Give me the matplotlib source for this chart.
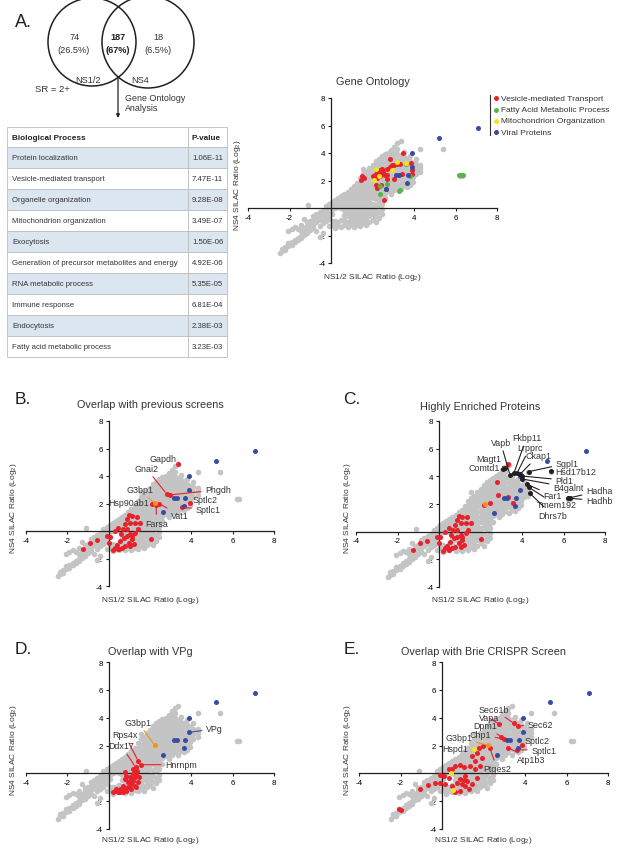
import matplotlib
matplotlib.use("Agg")
import matplotlib.pyplot as plt
from matplotlib.patches import Circle, Rectangle

plt.rcParams["font.family"] = ["Liberation Sans", "DejaVu Sans"]
plt.rcParams["mathtext.fontset"] = "custom"
plt.rcParams["mathtext.rm"] = "Liberation Sans"
plt.rcParams["axes.unicode_minus"] = False

GRAY = "#c4c4c4"
RED = "#e8212b"
BLUE = "#3a4ba3"
GREEN = "#5ab548"
YELLOW = "#f2e51b"
ORANGE = "#f39221"
BLACK = "#231f20"
TXT = "#333333"
DOT = 13

# ---- panel A: venn + table ----
venn_left = ["74", "(26.5%)"]
venn_mid = ["187", "(67%)"]
venn_right = ["18", "(6.5%)"]
table_terms = [
    "Protein localization",
    "Vesicle-mediated transport",
    "Organelle organization",
    "Mitochondrion organization",
    "Exocytosis",
    "Generation of precursor metabolites and energy",
    "RNA metabolic process",
    "Immune response",
    "Endocytosis",
    "Fatty acid metabolic process",
]
table_pvals = ["1.06E-11", "7.47E-11", "9.28E-08", "3.49E-07", "1.50E-06",
               "4.92E-06", "5.35E-05", "6.81E-04", "2.38E-03", "3.23E-03"]

# ---- all proteins (gray), read column by column: (NS1/2, [NS4 values]) ----
gray_columns = [
    (-2.45, [-3.25]),
    (-2.35, [-3.1, -2.95]),
    (-2.2, [-3.05, -2.85]),
    (-2.05, [-2.75, -2.55, -1.7]),
    (-1.9, [-2.5, -2.7, -1.55]),
    (-1.75, [-2.3, -2.5, -1.4]),
    (-1.6, [-2.15, -2.35, -1.5]),
    (-1.45, [-2.0, -2.2, -1.25, -1.65]),
    (-1.3, [-1.75, -1.95, -1.45, -0.8]),
    (-1.15, [-1.6, -1.85, -1.05, -1.3]),
    (-1.1, [0.2]),
    (-1.0, [-1.35, -1.6, -0.95, -1.15]),
    (-0.85, [-1.2, -1.45, -0.9, -0.6]),
    (-0.7, [-1.05, -1.65, -0.75, -0.45]),
    (-0.55, [-2.1, -0.9, -0.6, -1.3, -0.3]),
    (-0.4, [-0.8, -0.5, -0.2, -1.1, -1.8]),
    (-0.25, [-0.65, -0.35, -0.05, -0.95, 0.15]),
    (-0.1, [-0.5, -0.2, 0.1, -0.8, 0.3, -1.3]),
    (0.05, [-0.95, -0.4, -0.1, 0.2, 0.45, -1.2]),
    (0.2, [-1.25, -0.95, 0.0, 0.3, 0.6, -1.45]),
    (0.35, [-1.0, -1.3, 0.1, 0.4, 0.75]),
    (0.5, [-1.35, -0.85, 0.0, 0.25, 0.55, 0.9]),
    (0.65, [-1.2, -0.9, -0.5, -0.15, 0.15, 0.45, 0.8, 1.05]),
    (0.8, [-1.4, -1.0, -0.6, -0.3, 0.0, 0.3, 0.6, 0.95, 1.2]),
    (0.95, [-1.25, -0.9, -0.5, -0.15, 0.2, 0.5, 0.85, 1.15, 1.4]),
    (1.1, [-1.4, -1.05, -0.7, -0.35, 0.0, 0.35, 0.7, 1.0, 1.35, 1.6]),
    (1.25, [-1.2, -0.85, -0.5, -0.15, 0.2, 0.55, 0.9, 1.25, 1.55, 1.85]),
    (1.4, [-1.3, -0.95, -0.6, -0.25, 0.1, 0.45, 0.8, 1.15, 1.5, 1.85, 2.2]),
    (1.55, [-1.1, -0.75, -0.4, -0.05, 0.3, 0.65, 1.0, 1.35, 1.7, 2.05, 2.45, 2.85]),
    (1.7, [-1.25, -0.9, -0.5, -0.15, 0.2, 0.55, 0.9, 1.25, 1.6, 1.95, 2.3, 2.6]),
    (1.85, [-1.0, -0.6, -0.25, 0.1, 0.45, 0.8, 1.15, 1.5, 1.85, 2.2, 2.55, 2.9]),
    (2.0, [-0.85, -0.45, -0.1, 0.3, 0.7, 1.05, 1.4, 1.75, 2.1, 2.45, 2.8, 3.1]),
    (2.15, [-1.05, -0.6, -0.2, 0.25, 0.65, 1.0, 1.35, 1.7, 2.05, 2.4, 2.75, 3.05, 3.4]),
    (2.3, [-0.7, -0.3, 0.2, 0.5, 0.85, 1.2, 1.55, 1.9, 2.25, 2.6, 2.95, 3.25, 3.6]),
    (2.45, [-0.45, -0.1, 0.3, 0.6, 0.95, 1.3, 1.65, 2.0, 2.35, 2.7, 3.05, 3.4, 3.75]),
    (2.6, [0.7, 1.1, 1.45, 1.8, 2.15, 2.5, 2.85, 3.2, 3.55, 3.9]),
    (2.75, [1.25, 1.6, 1.95, 2.3, 2.65, 3.0, 3.35, 3.7, 4.0]),
    (2.9, [1.05, 1.4, 1.75, 2.1, 2.45, 2.8, 3.15, 3.5, 3.85, 4.2]),
    (3.05, [1.3, 1.65, 2.0, 2.35, 2.7, 3.05, 3.4, 3.75, 4.1, 4.45]),
    (3.2, [1.5, 1.85, 2.2, 2.55, 2.9, 3.25, 3.6, 3.95, 4.3, 4.7]),
    (3.35, [1.35, 1.75, 2.1, 2.45, 2.8, 3.15, 3.5, 3.85, 4.85]),
    (3.5, [1.6, 1.95, 2.3, 2.65, 3.0, 3.35, 3.7, 4.05]),
    (3.65, [1.5, 1.9, 2.25, 2.6, 2.95, 3.3, 3.65]),
    (3.8, [1.7, 2.05, 2.4, 2.75, 3.1, 3.45, 3.8]),
    (3.95, [1.9, 2.25, 2.6, 2.95, 3.3]),
    (4.1, [2.5, 2.85, 3.2, 3.6]),
    (4.3, [2.6, 2.9, 3.15, 4.3]),
    (5.4, [4.3]),
    (6.2, [2.35]),
    (6.3, [2.35]),
]

viral = [(7.1, 5.8), (5.2, 5.1), (3.9, 4.0), (3.9, 3.0), (3.15, 2.4), (3.3, 2.4),
         (3.7, 2.4), (3.65, 1.85), (2.65, 1.35)]

# gene ontology
go_red = [(1.51, 2.30), (1.43, 2.01), (1.6, 2.15), (2.01, 2.30), (2.13, 2.42), (2.21, 2.62),
          (2.37, 2.74), (2.45, 2.86), (2.53, 2.62), (2.69, 2.86), (2.82, 2.98), (2.93, 3.10),
          (3.04, 3.15), (3.17, 3.22), (3.33, 3.22), (3.45, 4.02), (2.82, 3.54), (3.85, 3.30),
          (3.90, 2.74), (3.90, 2.50), (3.41, 2.50), (3.04, 2.08), (2.69, 2.13), (2.58, 2.38),
          (2.37, 2.33), (2.21, 2.18), (2.17, 1.65), (2.24, 1.48), (2.40, 1.70), (2.64, 1.36),
          (2.56, 0.61), (2.72, 2.38), (2.3, 2.55), (2.5, 2.5)]
go_yellow = [(2.17, 2.81), (2.09, 2.01), (2.33, 2.33), (2.93, 2.74), (3.17, 3.35), (3.62, 3.30)]
go_green = [(3.61, 3.22), (3.82, 2.33), (2.37, 1.60), (2.69, 1.77), (2.37, 1.04), (3.33, 1.28),
            (3.27, 1.24), (6.15, 2.38), (6.25, 2.38), (6.34, 2.38)]
go_legend = ["Vesicle-mediated Transport", "Fatty Acid Metabolic Process",
             "Mitochondrion Organization", "Viral Proteins"]

# previous screens (B)
prev_red = [(-1.24, -1.33), (-0.91, -0.84), (-0.56, -0.65), (-0.08, -0.36), (0.02, -0.84),
            (0.30, 0.0), (0.46, 0.24), (0.60, -0.24), (0.68, 0.12), (0.96, 1.13), (1.12, 1.08),
            (1.37, 1.04), (1.54, 0.60), (1.29, 0.60), (1.04, 0.60), (0.79, 0.48), (0.88, 0.12),
            (2.03, -0.55), (0.55, -0.72), (0.74, -0.48), (0.88, -0.36), (1.04, -0.24),
            (1.12, -0.60), (0.96, -0.84), (0.79, -1.08), (0.63, -1.20), (0.46, -1.33),
            (0.30, -1.20), (0.38, -1.04), (1.04, -1.08), (1.21, -0.96), (1.12, -0.36),
            (1.29, -0.12), (1.40, 0.12), (0.88, 0.84), (0.05, -0.4), (0.5, -1.28), (0.21, -1.37)]
prev_names = ["Gapdh", "Gnai2", "Phgdh", "Hsp90ab1", "Farsa", "Vat1", "Sptlc2", "Sptlc1"]
prev_pts = [(3.35, 4.85), (2.8, 2.7), (2.95, 2.62), (2.1, 2.0), (2.3, 1.9), (2.45, 2.0),
            (3.92, 2.04), (3.56, 1.72)]
g3bp1_pt = (2.22, 2.02)

# highly enriched (C)
enr_red_upper = [(3.34, 4.87), (2.81, 3.61), (2.86, 2.65), (3.31, 2.53), (3.55, 2.1),
                 (2.46, 2.05), (2.15, 1.95)]
enr_names = ["Magt1", "Comtd1", "Vapb", "Fkbp11", "Lrpprc", "Ckap1", "Sgpl1", "Hsd17b12",
             "Pld1", "B4galnt", "Far1", "Tmem192", "Dhrs7b", "Hadha", "Hadhb"]
enr_pts = [(3.18, 4.63), (3.1, 4.55), (3.42, 4.1), (3.61, 4.22), (3.77, 4.27), (3.9, 4.14),
           (4.33, 4.34), (5.38, 4.41), (4.01, 4.02), (4.01, 3.81), (4.25, 3.42), (4.33, 3.2),
           (4.38, 2.77), (6.2, 2.41), (6.31, 2.41)]

# VPg (D)
vpg_red = [(0.29, -1.25), (0.45, -1.32), (0.61, -1.25), (0.77, -1.13), (0.93, -1.01),
           (1.10, -0.77), (1.18, -0.53), (1.26, -0.29), (1.34, -0.05), (1.37, 0.19),
           (1.18, -0.05), (1.01, -0.29), (0.85, -0.17), (0.77, 0.07), (0.82, -0.29),
           (1.1, -0.41), (0.93, -0.65), (0.69, -0.89), (0.53, -1.13), (0.37, -1.13),
           (1.26, -0.89), (1.42, -0.65), (1.47, -0.29), (1.34, -1.01), (1.10, -1.13),
           (0.85, -1.25), (0.69, -1.37), (0.53, -1.37), (0.21, -1.37), (0.77, -0.41),
           (1.26, 0.07), (1.18, 0.31)]
vpg_names = ["Rps4x", "Ddx17", "Hnrnpm"]
vpg_pts = [(1.42, 0.91), (1.3, 0.45), (1.58, 0.62)]
vpg_viral_pt = (3.91, 2.95)

# Brie CRISPR (E)
brie_red = [(-2.09, -2.59), (-2.0, -2.66), (-1.04, -1.15), (-0.67, -0.84), (-0.35, -0.72),
            (-0.08, -0.12), (0.08, -0.19), (0.32, 0.29), (0.48, 0.34), (0.64, 0.53),
            (0.88, 0.58), (1.04, 0.48), (1.37, 0.53), (1.61, 0.34), (1.85, 0.53), (1.12, -0.19),
            (0.88, -0.43), (0.72, -0.67), (0.96, -0.79), (1.12, -0.91), (0.88, -1.27),
            (0.64, -1.34), (1.2, -0.55), (1.45, -0.79), (1.29, -1.15), (1.04, -0.48),
            (0.48, -0.91), (0.16, -0.79), (-0.08, -0.67), (1.69, -0.31), (0.32, -0.31),
            (1.45, 1.25), (1.69, 1.44), (1.93, 1.13), (1.57, 0.89), (1.77, 1.85), (1.96, 1.97)]
brie_yellow = [(0.45, 0.05), (0.51, -1.2)]
brie_names = ["Sec61b", "Vapa", "Sec62", "Dpm1", "Chp1", "Sptlc2", "Sptlc1", "Atp1b3", "Ptges2"]
brie_pts = [(3.45, 3.6), (2.76, 3.53), (3.66, 3.41), (2.86, 2.62), (3.0, 2.45), (3.86, 2.02),
            (3.6, 1.7), (3.18, 1.85), (2.3, 1.85)]
hspd1_pt = (1.53, 1.78)

W, H = 617, 853
fig = plt.figure(figsize=(W / 100, H / 100), dpi=100)

# overlay in pixel coordinates for the non-chart parts
ov = fig.add_axes([0, 0, 1, 1])
ov.set_xlim(0, W)
ov.set_ylim(H, 0)
ov.axis("off")


def pts_xy(pts):
    return [p[0] for p in pts], [p[1] for p in pts]


def make_panel(rect, title, title_y, ylab_x, xlab_y):
    left, top, right, bottom = rect
    ax = fig.add_axes([left / W, 1 - bottom / H, (right - left) / W, (bottom - top) / H])
    ax.set_xlim(-4, 8)
    ax.set_ylim(-4, 8)
    ax.patch.set_visible(False)
    for s in ["top", "right"]:
        ax.spines[s].set_visible(False)
    for s in ["left", "bottom"]:
        ax.spines[s].set_position(("data", 0))
        ax.spines[s].set_linewidth(0.9)
        ax.spines[s].set_color(BLACK)
    ax.set_xticks([-4, -2, 2, 4, 6, 8])
    ax.set_yticks([-4, -2, 2, 4, 6, 8])
    ax.tick_params(length=2.5, width=0.8, labelsize=5.7, pad=1.5, color=BLACK)
    ax.text(0.5, title_y, title, transform=ax.transAxes, ha="center", va="center",
            fontsize=7.8, color=TXT)
    ax.text(ylab_x, 0.48, "NS4 SILAC Ratio (Log$_{\\mathrm{2}}$)", transform=ax.transAxes,
            rotation=90, ha="center", va="center", fontsize=6, color=TXT)
    ax.text(0.5, xlab_y, "NS1/2 SILAC Ratio (Log$_{\\mathrm{2}}$)", transform=ax.transAxes,
            ha="center", va="center", fontsize=6, color=TXT)
    gx, gy = [], []
    for x, ys in gray_columns:
        gx += [x] * len(ys)
        gy += ys
    ax.scatter(gx, gy, s=DOT + 3, c=GRAY, linewidths=0, zorder=2, clip_on=False)
    return ax


def dots(ax, pts, color, z=3):
    x, y = pts_xy(pts)
    ax.scatter(x, y, s=DOT, c=color, linewidths=0, zorder=z, clip_on=False)


def tag(ax, name, pt, txt, color, ha="center", line=True):
    if line:
        ax.annotate(name, xy=pt, xytext=txt, ha=ha, va="center", fontsize=6.4, color=TXT,
                    zorder=6, annotation_clip=False,
                    arrowprops=dict(arrowstyle="-", color=color, lw=0.8, shrinkA=1, shrinkB=1.5))
    else:
        ax.text(txt[0], txt[1], name, ha=ha, va="center", fontsize=6.4, color=TXT, zorder=6)


# ---- Venn ----
ov.text(15, 22, "A.", fontsize=13, ha="left", va="center", color=BLACK)
ov.add_patch(Circle((92, 43), 44, fill=False, lw=1.1, ec=BLACK))
ov.add_patch(Circle((148, 43), 46, fill=False, lw=1.1, ec=BLACK))
ov.text(75, 37, venn_left[0], fontsize=6.6, ha="center", va="center", color=TXT)
ov.text(74, 50, venn_left[1], fontsize=6.6, ha="center", va="center", color=TXT)
ov.text(118, 37, venn_mid[0], fontsize=6.6, ha="center", va="center", weight="bold", color=BLACK)
ov.text(118, 50, venn_mid[1], fontsize=6.6, ha="center", va="center", weight="bold", color=BLACK)
ov.text(158, 37, venn_right[0], fontsize=6.6, ha="center", va="center", color=TXT)
ov.text(158, 50, venn_right[1], fontsize=6.6, ha="center", va="center", color=TXT)
ov.text(88, 80, "NS1/2", fontsize=6.6, ha="center", va="center", color=TXT)
ov.text(140, 80, "NS4", fontsize=6.6, ha="center", va="center", color=TXT)
ov.text(35, 89, "SR = 2+", fontsize=6.8, ha="left", va="center", color=TXT)
ov.text(125, 98, "Gene Ontology", fontsize=6.4, ha="left", va="center", color=TXT)
ov.text(125, 108, "Analysis", fontsize=6.4, ha="left", va="center", color=TXT)
ov.annotate("", xy=(118, 119), xytext=(118, 78),
            arrowprops=dict(arrowstyle="-|>", lw=0.9, color=BLACK, mutation_scale=5,
                            shrinkA=0, shrinkB=0))

# ---- table ----
tl, tm, tr = 7, 188, 227
ov.add_patch(Rectangle((tl, 128), tm - tl, 20, fc="white", ec="#bdbdbd", lw=0.6))
ov.add_patch(Rectangle((tm, 128), tr - tm, 20, fc="white", ec="#bdbdbd", lw=0.6))
ov.text(12, 138, "Biological Process", fontsize=5.9, weight="bold", va="center", color=BLACK)
ov.text(192, 138, "P-value", fontsize=5.9, weight="bold", va="center", color=BLACK)
for i, (term, pv) in enumerate(zip(table_terms, table_pvals)):
    y0 = 148 + 21 * i
    fc = "#dce6f1" if i % 2 == 0 else "white"
    ov.add_patch(Rectangle((tl, y0), tm - tl, 21, fc=fc, ec="#bdbdbd", lw=0.6))
    ov.add_patch(Rectangle((tm, y0), tr - tm, 21, fc=fc, ec="#bdbdbd", lw=0.6))
    ov.text(12, y0 + 10.5, term, fontsize=5.6, va="center", color=TXT)
    ov.text(192, y0 + 10.5, pv, fontsize=5.6, va="center", color=TXT)

# ---- Gene Ontology scatter ----
axA = make_panel((248, 99, 497, 264), "Gene Ontology", 1.10, -0.044, -0.079)
dots(axA, go_red, RED)
dots(axA, go_green, GREEN)
dots(axA, go_yellow, YELLOW)
dots(axA, viral, BLUE)
ov.plot([490, 490], [96, 136], color=TXT, lw=0.8)
for k, (lab, c) in enumerate(zip(go_legend, [RED, GREEN, YELLOW, BLUE])):
    yy = 99.3 + 11.3 * k
    ov.scatter([496], [yy], s=DOT, c=c, linewidths=0)
    ov.text(501, yy, lab, fontsize=6, ha="left", va="center", color=TXT)

# ---- B ----
ov.text(15, 400, "B.", fontsize=12.5, ha="left", va="center", color=BLACK)
axB = make_panel((26, 422, 274, 587), "Overlap with previous screens", 1.10, -0.052, -0.079)
dots(axB, prev_red + prev_pts, RED)
dots(axB, viral, BLUE)
dots(axB, [g3bp1_pt], ORANGE, z=4)
b_txt = [(2.63, 5.28), (1.82, 4.56), (5.29, 3.0), (1.97, 2.1), (2.31, 0.58), (3.44, 1.12),
         (4.05, 2.3), (4.2, 1.55)]
b_ha = ["center", "center", "center", "right", "center", "center", "left", "left"]
b_line = [False, True, True, False, True, True, False, True]
for n, p, t, ha, ln in zip(prev_names, prev_pts, b_txt, b_ha, b_line):
    tag(axB, n, p, t, RED, ha=ha, line=ln)
tag(axB, "G3bp1", g3bp1_pt, (1.5, 3.0), ORANGE)

# ---- C ----
ov.text(343, 400, "C.", fontsize=12.5, ha="left", va="center", color=BLACK)
axC = make_panel((356, 422, 605, 588), "Highly Enriched Proteins", 1.09, -0.035, -0.075)
dots(axC, prev_red + enr_red_upper, RED)
dots(axC, viral, BLUE)
dots(axC, [g3bp1_pt], ORANGE, z=4)
dots(axC, enr_pts, BLACK, z=4)
c_txt = [(2.38, 5.30), (2.18, 4.63), (2.97, 6.46), (4.22, 6.80), (4.38, 6.07), (4.78, 5.49),
         (6.18, 4.94), (5.62, 4.36), (6.04, 3.73), (6.23, 3.20), (5.47, 2.60), (5.67, 1.93),
         (5.47, 1.20), (7.72, 2.94), (7.72, 2.24)]
c_ha = ["center"] * 7 + ["left"] + ["center"] * 7
c_line = [True] * 7 + [False] + [True] * 7
for n, p, t, ha, ln in zip(enr_names, enr_pts, c_txt, c_ha, c_line):
    tag(axC, n, p, t, BLACK, ha=ha, line=ln)

# ---- D ----
ov.text(15, 650, "D.", fontsize=12.5, ha="left", va="center", color=BLACK)
axD = make_panel((26, 663, 274, 830), "Overlap with VPg", 1.066, -0.052, -0.06)
dots(axD, vpg_red + vpg_pts, RED)
dots(axD, viral, BLUE)
dots(axD, [g3bp1_pt], ORANGE, z=4)
d_txt = [(0.77, 2.78), (0.61, 1.99), (3.51, 0.62)]
for n, p, t in zip(vpg_names, vpg_pts, d_txt):
    tag(axD, n, p, t, RED)
tag(axD, "G3bp1", g3bp1_pt, (1.42, 3.67), ORANGE)
tag(axD, "VPg", vpg_viral_pt, (5.12, 3.19), BLUE)

# ---- E ----
ov.text(344, 650, "E.", fontsize=12.5, ha="left", va="center", color=BLACK)
axE = make_panel((359, 663, 608, 830), "Overlap with Brie CRISPR Screen", 1.066, -0.045, -0.06)
dots(axE, brie_red + brie_pts, RED)
dots(axE, viral, BLUE)
dots(axE, brie_yellow + [hspd1_pt], YELLOW, z=4)
dots(axE, [g3bp1_pt], ORANGE, z=4)
e_txt = [(2.49, 4.61), (2.25, 4.0), (4.74, 3.48), (2.06, 3.41), (1.85, 2.81), (4.0, 2.38),
         (4.9, 1.66), (4.3, 1.0), (2.65, 0.34)]
e_ha = ["center"] * 5 + ["left"] + ["center"] * 3
e_line = [True] * 9
for n, p, t, ha, ln in zip(brie_names, brie_pts, e_txt, e_ha, e_line):
    tag(axE, n, p, t, RED, ha=ha, line=ln)
tag(axE, "G3bp1", g3bp1_pt, (0.80, 2.57), ORANGE)
tag(axE, "Hspd1", hspd1_pt, (0.64, 1.78), YELLOW)

fig.savefig("out.png", dpi=100)
